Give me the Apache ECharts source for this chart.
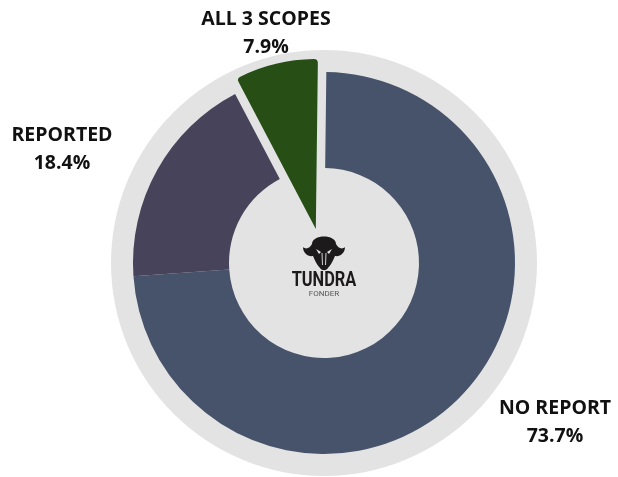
<!DOCTYPE html>
<html>
<head>
<meta charset="utf-8">
<script src="https://cdn.jsdelivr.net/npm/echarts@6/dist/echarts.min.js"></script>
<style>
  html, body { margin: 0; padding: 0; background: #ffffff; }
  #chart { width: 618px; height: 477px; }
</style>
</head>
<body>
<div id="chart"></div>
<script>
// Share of companies by emissions reporting status (%)
const categories = ['NO REPORT', 'REPORTED', 'ALL 3 SCOPES'];
const shares = [73.7, 18.4, 7.9];

// Highlighted category is pulled out of the ring as a full wedge
const highlighted = 'ALL 3 SCOPES';

const palette = {
  'NO REPORT': '#47536a',
  'REPORTED': '#46435a',
  'ALL 3 SCOPES': '#264e15'
};
const discColor = '#e2e3e2';
const CENTER = [324, 263];
const START = 89.3;

// fixed label anchors around the disc
const labelAnchors = {
  'NO REPORT': [555, 422],
  'REPORTED': [62, 149],
  'ALL 3 SCOPES': [266, 33]
};

// bull head emblem outline, drawn in a 44 x 36 box
const BullHead = echarts.graphic.extendShape({
  shape: { x: 0, y: 0 },
  buildPath(ctx, s) {
    const x = s.x, y = s.y;
    ctx.moveTo(x + 10, y + 9);
    ctx.bezierCurveTo(x + 10, y - 1, x + 34, y - 1, x + 34, y + 9);
    ctx.bezierCurveTo(x + 36, y + 13, x + 40, y + 15, x + 43, y + 12);
    ctx.bezierCurveTo(x + 43, y + 18, x + 38, y + 22, x + 33, y + 21);
    ctx.bezierCurveTo(x + 31, y + 26, x + 28, y + 31, x + 26, y + 33);
    ctx.bezierCurveTo(x + 24, y + 36, x + 20, y + 36, x + 18, y + 33);
    ctx.bezierCurveTo(x + 16, y + 31, x + 13, y + 26, x + 11, y + 21);
    ctx.bezierCurveTo(x + 6, y + 22, x + 1, y + 18, x + 1, y + 12);
    ctx.bezierCurveTo(x + 4, y + 15, x + 8, y + 13, x + 10, y + 9);
    ctx.closePath();
  }
});
echarts.graphic.registerShape('bullHead', BullHead);

const ringData = categories.map((name, i) => ({
  name,
  value: shares[i],
  itemStyle: { color: name === highlighted ? 'transparent' : palette[name] }
}));

const wedgeData = categories.map((name, i) => ({
  name,
  value: shares[i],
  selected: name === highlighted,
  itemStyle: {
    color: name === highlighted ? palette[name] : 'transparent',
    borderRadius: 4
  }
}));

const chart = echarts.init(document.getElementById('chart'), null, { renderer: 'canvas' });

const HX = 302, HY = 235;

chart.setOption({
  backgroundColor: '#ffffff',
  animation: false,
  series: [
    {
      // light backdrop disc
      type: 'pie',
      silent: true,
      center: CENTER,
      radius: [0, 213],
      label: { show: false },
      labelLine: { show: false },
      data: [{ value: 1, name: 'disc', itemStyle: { color: discColor } }]
    },
    {
      type: 'pie',
      silent: true,
      center: CENTER,
      radius: [95, 191],
      startAngle: START,
      clockwise: true,
      avoidLabelOverlap: false,
      label: {
        show: true,
        position: 'outside',
        formatter: p => p.name + '\n' + p.value + '%',
        color: '#111111',
        fontFamily: 'Open Sans',
        fontWeight: 700,
        fontSize: 19.5,
        lineHeight: 28,
        align: 'center'
      },
      labelLine: { show: false },
      labelLayout: params => {
        const a = labelAnchors[categories[params.dataIndex]];
        return { x: a[0], y: a[1], align: 'center', verticalAlign: 'middle' };
      },
      data: ringData
    },
    {
      type: 'pie',
      silent: true,
      center: CENTER,
      radius: [0, 170],
      startAngle: START,
      clockwise: true,
      selectedMode: 'single',
      selectedOffset: 35,
      label: { show: false },
      labelLine: { show: false },
      data: wedgeData
    }
  ],
  graphic: [
    {
      type: 'bullHead',
      shape: { x: HX, y: HY },
      style: { fill: '#1c1a1b' },
      z: 100
    },
    {
      type: 'polygon',
      shape: { points: [[HX + 14, HY + 14], [HX + 19, HY + 17], [HX + 17, HY + 19]] },
      style: { fill: '#e6e6e6' },
      z: 101
    },
    {
      type: 'polygon',
      shape: { points: [[HX + 30, HY + 14], [HX + 25, HY + 17], [HX + 27, HY + 19]] },
      style: { fill: '#e6e6e6' },
      z: 101
    },
    {
      type: 'line',
      shape: { x1: HX + 20, y1: HY + 18, x2: HX + 20.5, y2: HY + 30 },
      style: { stroke: '#e6e6e6', lineWidth: 0.9 },
      z: 101
    },
    {
      type: 'line',
      shape: { x1: HX + 24, y1: HY + 18, x2: HX + 23.5, y2: HY + 30 },
      style: { stroke: '#e6e6e6', lineWidth: 0.9 },
      z: 101
    },
    {
      type: 'text',
      x: 324,
      y: 281,
      scaleX: 0.78,
      originX: 0,
      originY: 0,
      style: {
        text: 'TUNDRA',
        fill: '#1c1a1b',
        font: 'bold 21px Roboto, sans-serif',
        align: 'center',
        verticalAlign: 'middle'
      },
      z: 100
    },
    {
      type: 'text',
      x: 324,
      y: 294,
      style: {
        text: 'FONDER',
        fill: '#555555',
        font: '8px Roboto, sans-serif',
        align: 'center',
        verticalAlign: 'middle'
      },
      z: 100
    }
  ]
});
</script>
</body>
</html>
